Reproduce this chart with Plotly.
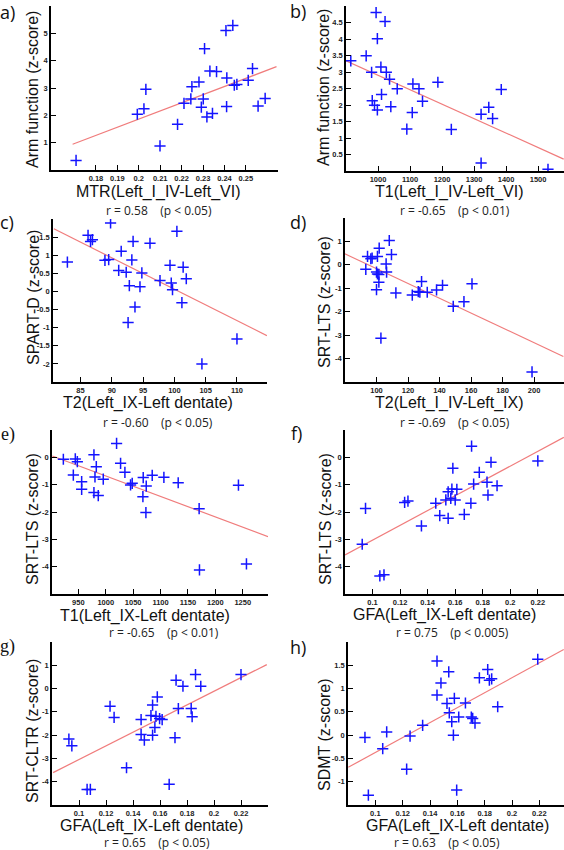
import plotly.graph_objects as go

W, H = 564, 850

# ---------------- data ----------------
a_x = [0.1707, 0.1993, 0.2024, 0.2033, 0.2099, 0.2181, 0.2211, 0.2243, 0.2248, 0.2281, 0.2292, 0.2301, 0.2307, 0.2318,
       0.2332, 0.2344, 0.2363, 0.2407, 0.2411, 0.2410, 0.2439, 0.2446, 0.2458, 0.2511, 0.2531, 0.2557, 0.2590]
a_y = [0.35, 2.04, 2.24, 2.95, 0.88, 1.67, 2.44, 2.60, 3.05, 3.22, 2.30, 2.60, 4.44, 1.94,
       3.62, 2.07, 3.60, 5.10, 3.37, 2.32, 5.29, 3.10, 3.13, 3.28, 3.71, 2.34, 2.62]
a_fit_x = [0.1691, 0.2643]
a_fit_y = [0.94, 3.78]

b_x = [915, 963, 980, 982, 989, 994, 998, 998, 1009, 1011, 1022, 1026, 1036, 1040, 1060, 1090, 1107, 1109,
       1128, 1139, 1187, 1229, 1322, 1322, 1346, 1358, 1385, 1531]
b_y = [3.34, 3.49, 2.99, 2.13, 1.99, 4.80, 4.01, 1.85, 3.15, 2.32, 4.53, 2.99, 2.78, 1.95, 2.49, 1.27, 1.77, 2.64,
       2.49, 2.11, 2.69, 1.26, 1.72, 0.24, 1.93, 1.59, 2.47, 0.05]
b_fit_x = [900, 1580]
b_fit_y = [3.34, 0.36]

c_x = [82.9, 86.2, 86.6, 86.9, 88.9, 89.5, 89.8, 91.1, 91.5, 92.3, 92.6, 92.8, 93.2, 93.4, 93.7, 94.5, 94.8, 96.1,
       97.7, 99.3, 99.5, 99.7, 100.4, 101.2, 101.4, 101.9, 104.4, 110.0]
c_y = [0.81, 1.55, 1.38, 1.43, 0.86, 0.88, 1.89, 0.58, 1.11, 0.53, -0.86, 0.16, 0.87, 1.38, -0.43, 0.13, 0.51, 1.33,
       0.30, 0.72, 0.23, 0.05, 1.66, -0.31, 0.67, 0.35, -2.00, -1.31]
c_fit_x = [80.74, 114.79]
c_fit_y = [1.73, -1.22]

d_x = [93.2, 94.3, 96.4, 97.2, 100.0, 100.6, 100.6, 100.0, 101.5, 101.5, 101.7, 102.8, 106.1, 106.4, 108.1, 109.5,
       112.3, 122.7, 126.5, 127.5, 128.6, 132.2, 138.1, 141.9, 148.7, 155.5, 160.6, 198.7]
d_y = [-0.19, 0.36, 0.26, 0.29, -0.31, -0.39, 0.36, -1.06, -0.41, -0.74, 0.71, -3.13, 0.04, -0.31, 1.04, 0.44,
       -1.20, -1.29, -1.14, -1.17, -0.71, -1.17, -1.07, -0.87, -1.77, -1.57, -0.81, -4.57]
d_fit_x = [79.9, 218.6]
d_fit_y = [0.47, -3.91]

e_x = [922.7, 940.9, 944.5, 948.2, 956.1, 956.1, 978.5, 978.5, 980.4, 982.8, 986.4, 995.5, 1019.8, 1027.1, 1035.0,
       1045.3, 1048.3, 1067.8, 1068.4, 1073.9, 1073.3, 1084.8, 1106.1, 1132.2, 1170.4, 1171.0, 1242.1, 1256.7]
e_y = [-0.07, -0.65, -0.06, -0.16, -0.89, -1.17, 0.09, -1.29, -0.72, -0.34, -1.40, -0.80, 0.51, -0.22, -0.55,
       -1.01, -0.95, -1.44, -0.74, -1.05, -2.02, -0.66, -0.73, -0.93, -1.88, -4.12, -1.02, -3.90]
e_fit_x = [902.6, 1296.1]
e_fit_y = [0.05, -2.90]

f_x = [0.0925, 0.0949, 0.1053, 0.1083, 0.1233, 0.1257, 0.1355, 0.1459, 0.1488, 0.1532, 0.1549, 0.1549, 0.1568,
       0.1576, 0.1583, 0.1600, 0.1612, 0.1666, 0.1714, 0.1719, 0.1734, 0.1775, 0.1831, 0.1838, 0.1860, 0.1904, 0.2200]
f_y = [-3.18, -1.87, -4.34, -4.30, -1.65, -1.60, -2.51, -1.68, -2.13, -1.56, -1.26, -2.23, -1.50,
       -1.16, -0.40, -1.56, -1.17, -2.09, -1.68, 0.41, -0.98, -0.55, -0.91, -1.38, -0.18, -1.04, -0.13]
f_fit_x = [0.08, 0.2389]
f_fit_y = [-3.57, 0.73]

g_x = [0.0925, 0.0947, 0.1060, 0.1084, 0.1230, 0.1260, 0.1352, 0.1460, 0.1460, 0.1484, 0.1533, 0.1545, 0.1545,
       0.1562, 0.1570, 0.1580, 0.1597, 0.1616, 0.1668, 0.1711, 0.1719, 0.1736, 0.1770, 0.1831, 0.1838, 0.1863,
       0.1902, 0.2200]
g_y = [-2.17, -2.46, -4.33, -4.33, -0.76, -1.24, -3.40, -1.33, -1.97, -2.21, -1.16, -0.71, -2.00,
       -1.67, -1.19, -0.36, -1.29, -1.33, -4.11, -2.11, 0.36, -0.86, 0.10, -0.86, -1.21, 0.60,
       0.10, 0.60]
g_fit_x = [0.0808, 0.2391]
g_fit_y = [-3.61, 1.03]

h_x = [0.0924, 0.0949, 0.1054, 0.1083, 0.1229, 0.1254, 0.1346, 0.1451, 0.1451, 0.1480, 0.1524, 0.1537, 0.1541,
       0.1559, 0.1571, 0.1578, 0.1595, 0.1610, 0.1659, 0.1702, 0.1712, 0.1729, 0.1761, 0.1822, 0.1834, 0.1851,
       0.1895, 0.2188]
h_y = [-0.05, -1.29, -0.29, 0.07, -0.73, -0.02, 0.21, 1.59, 0.86, 1.12, 0.68, 1.36, 0.48,
       0.29, 0.00, 0.79, -1.18, 0.39, 0.69, 0.39, 0.36, 0.26, 1.23, 1.41, 1.18, 1.21,
       0.61, 1.63]
h_fit_x = [0.0802, 0.2378]
h_fit_y = [-0.69, 1.84]

# tick values / labels
a_xt = [0.18, 0.19, 0.20, 0.21, 0.22, 0.23, 0.24, 0.25]
a_xl = ["0.18", "0.19", "0.2", "0.21", "0.22", "0.23", "0.24", "0.25"]
a_yt = [1, 2, 3, 4, 5]
a_yl = ["1", "2", "3", "4", "5"]
b_xt = [1000, 1100, 1200, 1300, 1400, 1500]
b_xl = ["1000", "1100", "1200", "1300", "1400", "1500"]
b_yt = [0.5, 1, 1.5, 2, 2.5, 3, 3.5, 4, 4.5]
b_yl = ["0.5", "1", "1.5", "2", "2.5", "3", "3.5", "4", "4.5"]
c_xt = [85, 90, 95, 100, 105, 110]
c_xl = ["85", "90", "95", "100", "105", "110"]
c_yt = [-2, -1.5, -1, -0.5, 0, 0.5, 1, 1.5]
c_yl = ["-2", "-1.5", "-1", "-0.5", "0", "0.5", "1", "1.5"]
d_xt = [100, 120, 140, 160, 180, 200]
d_xl = ["100", "120", "140", "160", "180", "200"]
d_yt = [-4, -3, -2, -1, 0, 1]
d_yl = ["-4", "-3", "-2", "-1", "0", "1"]
e_xt = [950, 1000, 1050, 1100, 1150, 1200, 1250]
e_xl = ["950", "1000", "1050", "1100", "1150", "1200", "1250"]
e_yt = [-4, -3, -2, -1, 0]
e_yl = ["-4", "-3", "-2", "-1", "0"]
gfa_xt = [0.10, 0.12, 0.14, 0.16, 0.18, 0.20, 0.22]
gfa_xl = ["0.1", "0.12", "0.14", "0.16", "0.18", "0.2", "0.22"]
f_yt = [-4, -3, -2, -1, 0]
f_yl = ["-4", "-3", "-2", "-1", "0"]
g_yt = [-4, -3, -2, -1, 0, 1]
g_yl = ["-4", "-3", "-2", "-1", "0", "1"]
h_yt = [-1, -0.5, 0, 0.5, 1, 1.5]
h_yl = ["-1", "-0.5", "0", "0.5", "1", "1.5"]

labels = ["a)", "b)", "c)", "d)", "e)", "f)", "g)", "h)"]
x_titles = ["MTR(Left_I_IV-Left_VI)", "T1(Left_I_IV-Left_VI)", "T2(Left_IX-Left dentate)",
            "T2(Left_I_IV-Left_IX)", "T1(Left_IX-Left dentate)", "GFA(Left_IX-Left dentate)",
            "GFA(Left_IX-Left dentate)", "GFA(Left_IX-Left dentate)"]
y_titles = ["Arm function (z-score)", "Arm function (z-score)", "SPART-D (z-score)", "SRT-LTS (z-score)",
            "SRT-LTS (z-score)", "SRT-LTS (z-score)", "SRT-CLTR (z-score)", "SDMT (z-score)"]
r_values = ["0.58", "-0.65", "-0.60", "-0.69", "-0.65", "0.75", "0.65", "0.63"]
p_values = ["0.05", "0.01", "0.05", "0.05", "0.01", "0.005", "0.05", "0.05"]

# ---------------- layout geometry (pixels) ----------------
panels = [
    dict(x=a_x, y=a_y, fx=a_fit_x, fy=a_fit_y, xt=a_xt, xl=a_xl, yt=a_yt, yl=a_yl,
         xr=[0.159, 0.265], yr=[0, 6], box=(51, 278, 6, 170),
         lab=(7, 12), yti=(33, 90), xti=(158, 192), rt=(159, 210)),
    dict(x=b_x, y=b_y, fx=b_fit_x, fy=b_fit_y, xt=b_xt, xl=b_xl, yt=b_yt, yl=b_yl,
         xr=[900, 1581], yr=[0, 5], box=(346, 564, 6, 171),
         lab=(298, 11), yti=(324, 88), xti=(449, 192), rt=(455, 210)),
    dict(x=c_x, y=c_y, fx=c_fit_x, fy=c_fit_y, xt=c_xt, xl=c_xl, yt=c_yt, yl=c_yl,
         xr=[80.6, 114.8], yr=[-2.5, 2], box=(53, 267, 219, 382),
         lab=(7, 222), yti=(33, 298), xti=(148, 403), rt=(158, 422)),
    dict(x=d_x, y=d_y, fx=d_fit_x, fy=d_fit_y, xt=d_xt, xl=d_xl, yt=d_yt, yl=d_yl,
         xr=[80, 219], yr=[-5, 2], box=(345, 564, 218, 382),
         lab=(298, 222), yti=(325, 302), xti=(449, 403), rt=(455, 422)),
    dict(x=e_x, y=e_y, fx=e_fit_x, fy=e_fit_y, xt=e_xt, xl=e_xl, yt=e_yt, yl=e_yl,
         xr=[902, 1296], yr=[-5, 1], box=(52, 268, 430, 594),
         lab=(8, 434), yti=(32, 519), xti=(145, 616), rt=(164, 632)),
    dict(x=f_x, y=f_y, fx=f_fit_x, fy=f_fit_y, xt=gfa_xt, xl=gfa_xl, yt=f_yt, yl=f_yl,
         xr=[0.08, 0.239], yr=[-5, 1], box=(345, 564, 430, 594),
         lab=(296, 433), yti=(325, 519), xti=(444, 615), rt=(452, 632)),
    dict(x=g_x, y=g_y, fx=g_fit_x, fy=g_fit_y, xt=gfa_xt, xl=gfa_xl, yt=g_yt, yl=g_yl,
         xr=[0.08, 0.24], yr=[-5, 2], box=(52, 268, 642, 805),
         lab=(7, 646), yti=(32, 731), xti=(151, 826), rt=(157, 842)),
    dict(x=h_x, y=h_y, fx=h_fit_x, fy=h_fit_y, xt=gfa_xt, xl=gfa_xl, yt=h_yt, yl=h_yl,
         xr=[0.08, 0.238], yr=[-1.5, 2], box=(348, 564, 642, 805),
         lab=(298, 647), yti=(324, 735), xti=(457, 826), rt=(447, 842)),
]

def px(x):
    return x / W

def py(y):
    return 1 - y / H

fig = go.Figure()
annotations = []
MARK = "#1414ff"
FIT = "#f07c7c"
tickfont = dict(family="Arial", size=7.5, color="#222222", weight="bold")

for i, p in enumerate(panels):
    n = "" if i == 0 else str(i + 1)
    xa, ya = "x" + n, "y" + n
    fig.add_trace(go.Scatter(x=p["fx"], y=p["fy"], mode="lines", xaxis=xa, yaxis=ya,
                             line=dict(color=FIT, width=1.2), showlegend=False, hoverinfo="skip"))
    fig.add_trace(go.Scatter(x=p["x"], y=p["y"], mode="markers", xaxis=xa, yaxis=ya,
                             marker=dict(symbol="cross-thin", size=8, color=MARK,
                                         line=dict(color=MARK, width=1.5)),
                             showlegend=False))
    x0, x1, yt, yb = p["box"]
    common = dict(showline=True, linecolor="black", linewidth=1.6, ticks="inside", ticklen=5,
                  tickwidth=1.4, tickcolor="black", showgrid=False, zeroline=False,
                  tickfont=tickfont, fixedrange=True)
    fig.update_layout(**{
        "xaxis" + n: dict(domain=[px(x0), px(x1)], range=p["xr"], anchor=ya,
                          tickvals=p["xt"], ticktext=p["xl"], **common),
        "yaxis" + n: dict(domain=[py(yb), py(yt)], range=p["yr"], anchor=xa,
                          tickvals=p["yt"], ticktext=p["yl"], **common),
    })
    lab_font = "Liberation Serif" if labels[i] in ("e)", "g)") else "Open Sans"
    annotations.append(dict(text=labels[i], x=px(p["lab"][0]), y=py(p["lab"][1]), xref="paper", yref="paper",
                            showarrow=False, xanchor="center", yanchor="middle",
                            font=dict(family=lab_font, size=18, color="#111111")))
    annotations.append(dict(text=y_titles[i], x=px(p["yti"][0]), y=py(p["yti"][1]), xref="paper", yref="paper",
                            showarrow=False, textangle=-90, xanchor="center", yanchor="middle",
                            font=dict(family="Arial", size=16, color="#111111")))
    annotations.append(dict(text=x_titles[i], x=px(p["xti"][0]), y=py(p["xti"][1]), xref="paper", yref="paper",
                            showarrow=False, xanchor="center", yanchor="middle",
                            font=dict(family="Arial", size=16, color="#111111")))
    rtxt = "r = " + r_values[i] + "&nbsp;&nbsp;&nbsp;&nbsp;(p &lt; " + p_values[i] + ")"
    annotations.append(dict(text=rtxt, x=px(p["rt"][0]), y=py(p["rt"][1]), xref="paper", yref="paper",
                            showarrow=False, xanchor="center", yanchor="middle",
                            font=dict(family="Open Sans", size=12, color="#222222")))

fig.update_layout(width=W, height=H, margin=dict(l=0, r=0, t=0, b=0),
                  paper_bgcolor="white", plot_bgcolor="white", annotations=annotations,
                  showlegend=False)

fig.write_html("out.html", config={"displayModeBar": False},
               post_script="document.body.style.margin='0';document.body.style.overflow='hidden';")
